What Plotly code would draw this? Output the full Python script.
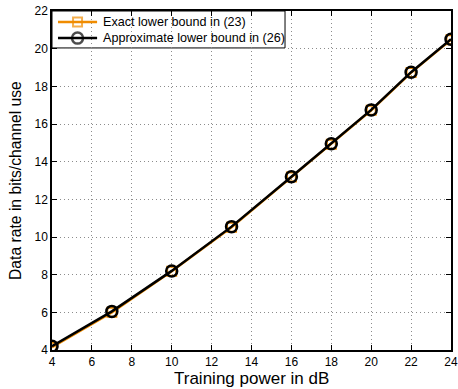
import plotly.graph_objects as go

power_db = [4, 7, 10, 13, 16, 18, 20, 22, 24]
exact_bound = [4.15, 6.0, 8.18, 10.52, 13.18, 14.93, 16.73, 18.73, 20.48]
approx_bound = [4.2, 6.05, 8.2, 10.55, 13.2, 14.95, 16.75, 18.75, 20.5]
series_names = ["Exact lower bound in (23)", "Approximate lower bound in (26)"]

x_ticks = [4, 6, 8, 10, 12, 14, 16, 18, 20, 22, 24]
y_ticks = [4, 6, 8, 10, 12, 14, 16, 18, 20, 22]

FONT = "Liberation Sans, Arial, sans-serif"
ORANGE = "#F08C00"

styles = [
    dict(color=ORANGE, symbol="square-open", size=9, mlw=2),
    dict(color="black", symbol="circle-open", size=11, mlw=2.5),
]

fig = go.Figure()
for name, vals, st in zip(series_names, [exact_bound, approx_bound], styles):
    fig.add_trace(go.Scatter(
        x=power_db, y=vals, mode="lines+markers", name=name, showlegend=False,
        line=dict(color=st["color"], width=2.5),
        marker=dict(symbol=st["symbol"], size=st["size"], color=st["color"],
                    line=dict(width=st["mlw"])),
    ))

# manual legend (layout positions in plot-area fractions)
box_x1, box_y0 = 0.584, 0.891
row_y = [0.9676, 0.920]
sample_x = [0.015, 0.064, 0.113]
text_x = 0.122

shapes = [dict(type="rect", xref="paper", yref="paper", x0=0, x1=box_x1, y0=box_y0, y1=1,
               fillcolor="white", line=dict(color="black", width=1), layer="between")]
annotations = []
for name, ry, st in zip(series_names, row_y, styles):
    fig.add_trace(go.Scatter(
        x=sample_x, y=[ry] * 3, xaxis="x2", yaxis="y2", mode="lines+markers",
        showlegend=False, hoverinfo="skip", cliponaxis=False,
        line=dict(color=st["color"], width=2.5),
        marker=dict(symbol=st["symbol"], size=[0, st["size"], 0], color=st["color"],
                    line=dict(width=st["mlw"])),
    ))
    annotations.append(dict(text=name, x=text_x, y=ry, xref="paper", yref="paper",
                            xanchor="left", yanchor="middle", showarrow=False,
                            font=dict(family=FONT, size=12.6, color="black")))

annotations += [
    dict(text="Training power in dB", x=0.5, y=0, xref="paper", yref="paper",
         xanchor="center", yanchor="top", yshift=-17, showarrow=False,
         font=dict(family=FONT, size=17, color="black")),
    dict(text="Data rate in bits/channel use", x=0, y=0.5, xref="paper", yref="paper",
         xanchor="right", yanchor="middle", xshift=-26, showarrow=False, textangle=-90,
         font=dict(family=FONT, size=15.7, color="black")),
]

axis_common = dict(
    showline=True, linecolor="black", linewidth=1.5, mirror="ticks",
    ticks="inside", ticklen=5, tickcolor="black",
    showgrid=True, gridcolor="#8c8c8c", griddash="1px,3px", gridwidth=1,
    zeroline=False, automargin=False,
    tickfont=dict(family=FONT, size=12, color="black"),
)

fig.update_layout(
    width=458, height=389,
    margin=dict(l=52, r=7, t=11, b=39, autoexpand=False),
    paper_bgcolor="white", plot_bgcolor="white",
    font=dict(family=FONT, color="black"),
    showlegend=False,
    xaxis=dict(range=[4, 24], tickvals=x_ticks, **axis_common),
    yaxis=dict(range=[4, 22], tickvals=y_ticks, **axis_common),
    xaxis2=dict(range=[0, 1], overlaying="x", visible=False, fixedrange=True),
    yaxis2=dict(range=[0, 1], overlaying="y", visible=False, fixedrange=True),
    shapes=shapes,
    annotations=annotations,
)

fig.write_html(
    "out.html",
    config={"displayModeBar": False},
    post_script="document.body.style.margin='0';document.body.style.overflow='hidden';",
)
